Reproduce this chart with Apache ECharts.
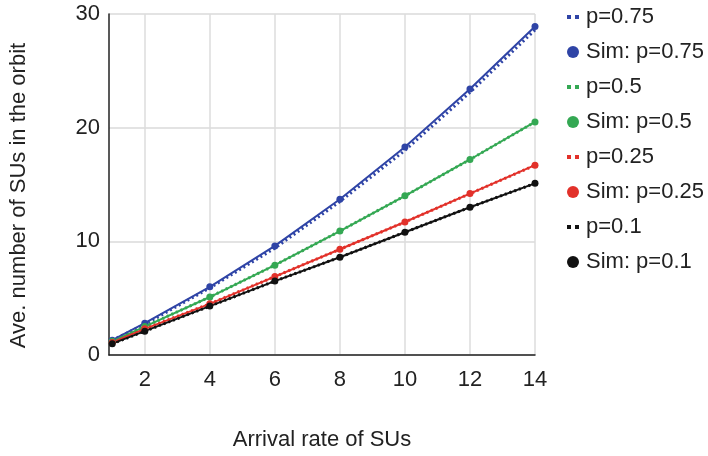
<!DOCTYPE html>
<html>
<head>
<meta charset="utf-8">
<script src="https://cdn.jsdelivr.net/npm/echarts@6/dist/echarts.min.js"></script>
<style>
  html, body { margin: 0; padding: 0; background: #fff; }
  #chart { width: 708px; height: 456px; }
</style>
</head>
<body>
<div id="chart"></div>
<script>
// arrival rate of SUs
var xRates = [1, 2, 4, 6, 8, 10, 12, 14];
var xTicks = [2, 4, 6, 8, 10, 12, 14];

// analytic (dotted) and simulation (solid + dots)
var anaP075 = [1.3, 2.7, 5.9, 9.4, 13.5, 18.0, 23.1, 28.6];
var simP075 = [1.3, 2.8, 6.0, 9.6, 13.7, 18.3, 23.4, 28.9];
var anaP05  = [1.2, 2.5, 5.1, 7.9, 10.9, 14.0, 17.2, 20.5];
var simP05  = [1.2, 2.5, 5.1, 7.9, 10.9, 14.0, 17.2, 20.5];
var anaP025 = [1.1, 2.3, 4.5, 6.9, 9.3, 11.7, 14.2, 16.7];
var simP025 = [1.1, 2.3, 4.5, 6.9, 9.3, 11.7, 14.2, 16.7];
var anaP01  = [1.0, 2.1, 4.3, 6.5, 8.6, 10.8, 13.0, 15.1];
var simP01  = [1.0, 2.1, 4.3, 6.5, 8.6, 10.8, 13.0, 15.1];

var names = ['p=0.75', 'Sim: p=0.75', 'p=0.5', 'Sim: p=0.5', 'p=0.25', 'Sim: p=0.25', 'p=0.1', 'Sim: p=0.1'];
var colors = ['#2f44a6', '#2f44a6', '#34a853', '#34a853', '#e2312a', '#e2312a', '#111111', '#111111'];
var values = [anaP075, simP075, anaP05, simP05, anaP025, simP025, anaP01, simP01];

function pairs(ys) {
    return xRates.map(function (x, i) { return [x, ys[i]]; });
}

var dotIcon = 'path://M0,0h4v4h-4zM8,0h4v4h-4z';

var chart = echarts.init(document.getElementById('chart'));

var series = names.map(function (n, i) {
    var isSim = n.indexOf('Sim') === 0;
    return {
        name: n,
        type: 'line',
        data: pairs(values[i]),
        color: colors[i],
        symbol: isSim ? 'circle' : 'none',
        symbolSize: 7,
        z: isSim ? 3 : 2,
        lineStyle: isSim ? { width: 2, type: 'solid' } : { width: 3, type: [2, 3] }
    };
});

option = {
    animation: false,
    grid: {
        left: 108,
        right: 173,
        top: 14,
        bottom: 100
    },
    legend: {
        orient: 'vertical',
        left: 562,
        top: 0,
        itemGap: 11,
        itemWidth: 12,
        itemHeight: 12,
        textStyle: { fontSize: 22, color: '#222', fontFamily: 'Liberation Sans', lineHeight: 24, padding: [0, 0, 0, 2] },
        data: names.map(function (n, i) {
            return {
                name: n,
                icon: n.indexOf('Sim') === 0 ? 'circle' : dotIcon
            };
        })
    },
    xAxis: {
        type: 'value',
        min: 0.9,
        max: 14,
        name: 'Arrival rate of SUs',
        nameLocation: 'middle',
        nameGap: 74,
        nameTextStyle: { fontSize: 22, color: '#222', fontFamily: 'Liberation Sans' },
        axisLine: { show: true, lineStyle: { color: '#222', width: 1.5 } },
        axisTick: { show: false, customValues: xTicks },
        axisLabel: { customValues: xTicks, fontSize: 22, color: '#222', fontFamily: 'Liberation Sans', margin: 14 },
        splitLine: { show: true, lineStyle: { color: '#dcdcdc', width: 1.5 } }
    },
    yAxis: {
        type: 'value',
        min: 0,
        max: 30,
        interval: 10,
        name: 'Ave. number of SUs in the orbit',
        nameLocation: 'middle',
        nameGap: 79,
        nameTextStyle: { fontSize: 22, color: '#222', fontFamily: 'Liberation Sans', padding: [0, 22, 0, 0] },
        axisLine: { show: true, lineStyle: { color: '#222', width: 1.5 } },
        axisTick: { show: false },
        axisLabel: { fontSize: 22, color: '#222', fontFamily: 'Liberation Sans', margin: 9 },
        splitLine: { show: true, lineStyle: { color: '#e3e3e3', width: 2 } }
    },
    series: series
};

chart.setOption(option);
</script>
</body>
</html>
